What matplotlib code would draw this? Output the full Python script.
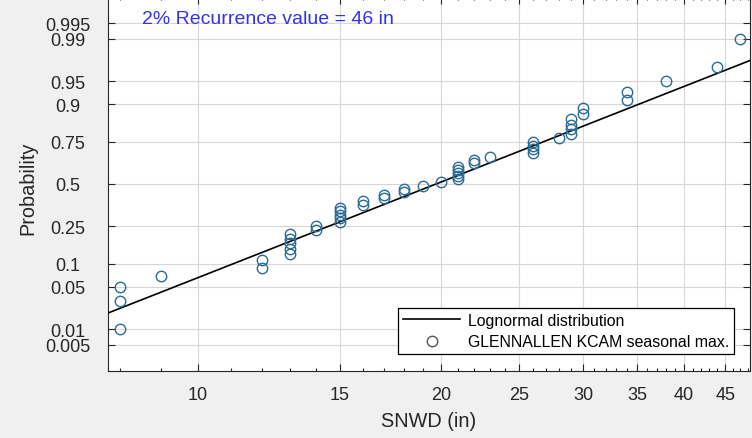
import numpy as np
import matplotlib.pyplot as plt
from matplotlib.ticker import NullFormatter
from statistics import NormalDist

plt.rcParams['font.family'] = ['Liberation Sans', 'DejaVu Sans']

# seasonal max snow depth (in), sorted
snwd = [8, 8, 8, 9, 12, 12, 13, 13, 13, 13, 13, 14, 14, 15, 15, 15, 15, 15,
        16, 16, 17, 17, 18, 18, 19, 20, 21, 21, 21, 21, 21, 22, 22, 23,
        26, 26, 26, 26, 28, 29, 29, 29, 29, 30, 30, 34, 34, 38, 44, 47]

# lognormal fit
fit_mu = 2.982
fit_sigma = 0.452

prob_ticks = [0.005, 0.01, 0.05, 0.1, 0.25, 0.5, 0.75, 0.9, 0.95, 0.99, 0.995]
prob_labels = ['0.005', '0.01', '0.05', '0.1', '0.25', '0.5', '0.75', '0.9', '0.95', '0.99', '0.995']
x_major = [10, 15, 20, 25, 30, 35, 40, 45]
x_labels = ['10', '15', '20', '25', '30', '35', '40', '45']

note = '2% Recurrence value = 46 in'
xlab = 'SNWD (in)'
ylab = 'Probability'
leg_fit = 'Lognormal distribution'
leg_obs = 'GLENNALLEN KCAM seasonal max.'

nd = NormalDist()
n = len(snwd)
pp = [(i - 0.5) / n for i in range(1, n + 1)]
z_obs = [nd.inv_cdf(p) for p in pp]

xlo, xhi = 7.74, 48.3
xs = np.geomspace(xlo, xhi, 60)
z_fit = (np.log(xs) - fit_mu) / fit_sigma

fig = plt.figure(figsize=(7.52, 4.39), dpi=100, facecolor='#f0f0f0')
ax = fig.add_axes([0.1436, 0.1526, 0.8537, 0.852])
ax.set_facecolor('white')

ax.plot(xs, z_fit, color='black', lw=1.2, label=leg_fit, zorder=3)
ax.plot(snwd, z_obs, ls='none', marker='o', ms=7.5, mfc='none',
        mec='#2a6c96', mew=1.0, label=leg_obs, zorder=4)

ax.set_xscale('log')
ax.set_xlim(xlo, xhi)
ax.set_ylim(-3, 3)

ax.set_xticks(x_major)
ax.set_xticklabels(x_labels)
ax.set_xticks([v for v in range(8, 49) if v not in x_major], minor=True)
ax.xaxis.set_minor_formatter(NullFormatter())

ax.set_yticks([nd.inv_cdf(p) for p in prob_ticks])
ax.set_yticklabels(prob_labels)
ax.set_yticks([], minor=True)

ax.tick_params(which='both', direction='in', top=True, right=True,
               colors='#262626', width=0.8, labelsize=13)
ax.tick_params(which='major', length=5)
ax.tick_params(which='minor', length=2.5)
ax.tick_params(axis='x', pad=11)
ax.tick_params(axis='y', pad=28.8)
for lbl in ax.get_yticklabels():
    lbl.set_horizontalalignment('center')

for s in ax.spines.values():
    s.set_color('#262626')
    s.set_linewidth(0.8)

ax.grid(True, which='major', color='#d6d6d6', lw=0.8)
ax.set_axisbelow(True)

ax.set_xlabel(xlab, fontsize=14.3, color='#262626')
ax.set_ylabel(ylab, fontsize=14.3, color='#262626')
ax.xaxis.set_label_coords(0.5, -0.106)
ax.yaxis.set_label_coords(-0.110, 0.49)

ax.text(0.053, 0.943, note, transform=ax.transAxes, fontsize=14,
        color='#3333ee', ha='left', va='center')

leg = ax.legend(loc='lower right', bbox_to_anchor=(0.975, 0.0455),
                borderaxespad=0, fontsize=11.4, frameon=True, fancybox=False,
                framealpha=1, edgecolor='black', handlelength=3.6,
                handletextpad=0.5, labelspacing=0.42, borderpad=0.3)
leg.get_frame().set_linewidth(0.9)
leg.legend_handles[1].set_markeredgecolor('#555555')

fig.savefig('out.png', dpi=100, facecolor=fig.get_facecolor())
